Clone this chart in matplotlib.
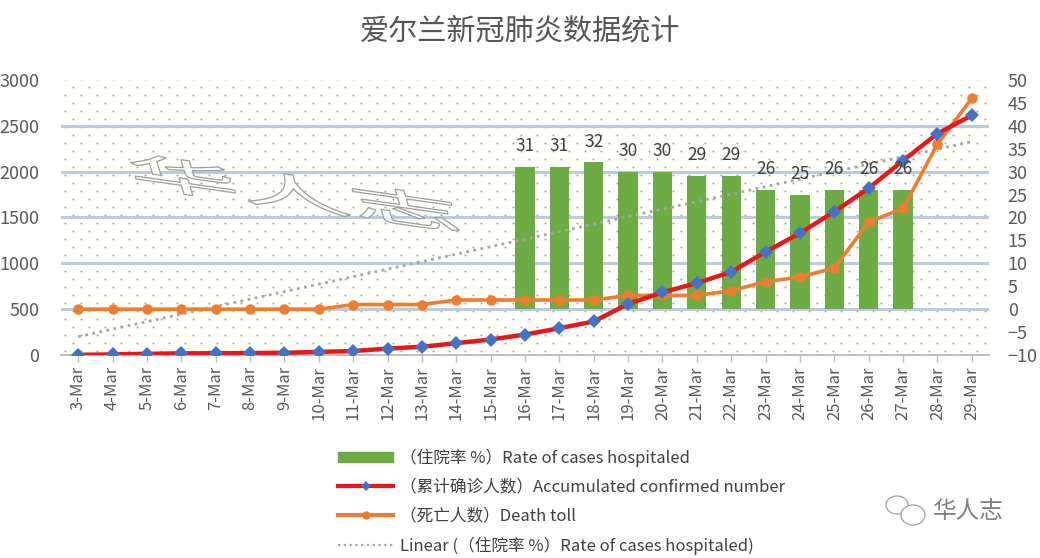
import numpy as np
import matplotlib
matplotlib.use("Agg")
import matplotlib.pyplot as plt
from matplotlib.lines import Line2D
from matplotlib.patches import PathPatch, Ellipse, Rectangle
from matplotlib.textpath import TextPath
from matplotlib.font_manager import FontProperties
from matplotlib.transforms import Affine2D

plt.rcParams['font.family'] = ['Noto Sans CJK SC', 'DejaVu Sans']

# ---------------- data ----------------
dates = ["3-Mar", "4-Mar", "5-Mar", "6-Mar", "7-Mar", "8-Mar", "9-Mar", "10-Mar",
         "11-Mar", "12-Mar", "13-Mar", "14-Mar", "15-Mar", "16-Mar", "17-Mar",
         "18-Mar", "19-Mar", "20-Mar", "21-Mar", "22-Mar", "23-Mar", "24-Mar",
         "25-Mar", "26-Mar", "27-Mar", "28-Mar", "29-Mar"]
confirmed = [2, 6, 13, 18, 19, 21, 24, 34, 43, 70, 90, 129, 169, 223, 292, 366,
             557, 683, 785, 906, 1125, 1329, 1564, 1819, 2121, 2415, 2615]
deaths = [0, 0, 0, 0, 0, 0, 0, 0, 1, 1, 1, 2, 2, 2, 2, 2, 3, 3, 3, 4, 6, 7, 9,
          19, 22, 36, 46]
hosp_rate = [None] * 13 + [31, 31, 32, 30, 30, 29, 29, 26, 25, 26, 26, 26] + [None, None]

label_bar = "（住院率 %）Rate of cases hospitaled"
label_conf = "（累计确诊人数）Accumulated confirmed number"
label_death = "（死亡人数）Death toll"
label_trend = "Linear (（住院率 %）Rate of cases hospitaled)"
title = "爱尔兰新冠肺炎数据统计"

# linear trendline (Excel style: blanks counted as zero, fit through last bar)
n_fit = max(i for i, v in enumerate(hosp_rate) if v is not None) + 1
fit_y = [0 if v is None else v for v in hosp_rate[:n_fit]]
coef = np.polyfit(np.arange(1, n_fit + 1), fit_y, 1)
trend = np.polyval(coef, np.arange(1, len(dates) + 1))

# ---------------- figure ----------------
W, H = 1040, 558
fig = plt.figure(figsize=(W / 100, H / 100), dpi=100)
L, R, T, B = 61, 989, 80, 355
rect = [L / W, 1 - B / H, (R - L) / W, (B - T) / H]
ax2 = fig.add_axes(rect)             # right axis (bars, deaths, trend, background)
ax = fig.add_axes(rect, sharex=ax2)  # left axis (confirmed), on top
ax.patch.set_visible(False)

x = np.arange(len(dates))
ax2.set_xlim(-0.5, len(dates) - 0.5)
ax.set_ylim(0, 3000)
ax2.set_ylim(-10, 50)

ax2.set_facecolor('#FFFFFC')
# dotted pattern background
nx = int((R - L) / 16) + 1
ny = int((B - T) / 8) + 1
px, py = [], []
for j in range(ny):
    off = 8 if j % 2 else 0
    for i in range(nx):
        px.append((4 + off + 16 * i) / (R - L))
        py.append((4 + 8 * j) / (B - T))
px = np.array(px); py = np.array(py)
m = px < 1
ax2.scatter(px[m], py[m], s=2.0, color='#A4A48C', transform=ax2.transAxes,
            zorder=0.5, linewidths=0)

# gridlines (left-axis multiples of 500)
for v in [500, 1000, 1500, 2000, 2500]:
    ax2.axhline((v / 3000) * 60 - 10, color='#BBCCDF', lw=2.2, zorder=0.6)

# bars
bar_x = [i for i, v in enumerate(hosp_rate) if v is not None]
bar_v = [v for v in hosp_rate if v is not None]
ax2.bar(bar_x, bar_v, width=0.56, color='#6DAC44', zorder=2, label=label_bar)

# trend line
ax2.plot(x, trend, color='#A6A6A6', lw=2, ls=(0, (1, 1.6)), zorder=3,
         label=label_trend)

# death toll
ax2.plot(x, deaths, color='#ED7D31', lw=2.6, marker='o', ms=7.5,
         markeredgewidth=0, zorder=4, label=label_death)

# confirmed
ax.plot(x, confirmed, color='#E3191B', lw=3.2, marker='D', ms=7.5,
        markerfacecolor='#4472C4', markeredgewidth=0, zorder=5,
        label=label_conf)

# bar value labels (on top of everything)
for xi, v in zip(bar_x, bar_v):
    ax.annotate(str(v), (xi, v), xycoords=ax2.transData, xytext=(0, 15),
                textcoords='offset points', ha='center', va='center',
                fontsize=12.5, color='#404040', zorder=6)

# axes styling
for a in (ax, ax2):
    for s in a.spines.values():
        s.set_visible(False)
ax.spines['bottom'].set_visible(True)
ax.spines['bottom'].set_color('#BFBFBF')
ax.spines['bottom'].set_linewidth(1.4)

ax.set_yticks([0, 500, 1000, 1500, 2000, 2500, 3000])
ax.tick_params(axis='y', left=False, labelsize=13, labelcolor='#595959', pad=12)
ax2.set_yticks(list(range(-10, 51, 5)))
ax2.yaxis.tick_right()
ax2.tick_params(axis='y', right=False, labelsize=13, labelcolor='#595959', pad=10)
ax2.tick_params(axis='x', bottom=False, labelbottom=False)
ax.set_xticks(x)
ax.set_xticklabels(dates, rotation=90)
ax.tick_params(axis='x', length=5, width=1, color='#BFBFBF', labelsize=12,
               labelcolor='#595959', pad=3)

fig.text(0.5, 1 - 32 / H, title, ha='center', va='center', fontsize=21,
         color='#555555', fontweight='medium')

# legend
handles = [Rectangle((0, 0), 1, 1, color='#6DAC44'),
           Line2D([], [], color='#E3191B', lw=3, marker='D', ms=5,
                  markerfacecolor='#4472C4', markeredgewidth=0),
           Line2D([], [], color='#ED7D31', lw=3, marker='o', ms=6,
                  markeredgewidth=0),
           Line2D([], [], color='#A6A6A6', lw=1.6, ls=(0, (1, 1.6)))]
leg = fig.legend(handles, [label_bar, label_conf, label_death, label_trend],
                 loc='upper left', bbox_to_anchor=(330 / W, 1 - 440 / H),
                 frameon=False, fontsize=12, handlelength=3.3, handleheight=0.6,
                 handletextpad=0.4, labelspacing=0.72, borderpad=0)
for t in leg.get_texts():
    t.set_color('#404040')

# watermark (embossed "华人志")
fp = FontProperties(family='Noto Sans CJK SC', weight='light')
tp = TextPath((0, 0), "华人志", size=44, prop=fp)
tw = Affine2D().scale(2.55, 0.85).skew_deg(-25, 0).rotate_deg(-8).translate(132, 374) \
    .scale(1 / W, 1 / H) + fig.transFigure
wm = PathPatch(tp, facecolor=(1, 1, 1, 0.75), edgecolor='#9E9E9E', lw=0.9,
               transform=tw, zorder=3)
fig.add_artist(wm)

# bottom-right logo
fig.add_artist(Ellipse((897 / W, 1 - 505 / H), 22 / W, 18 / H, fill=False,
                       edgecolor='#A0A0A0', lw=0.9, transform=fig.transFigure))
fig.add_artist(Ellipse((913 / W, 1 - 515 / H), 24 / W, 20 / H, facecolor='white',
                       edgecolor='#A0A0A0', lw=0.9, transform=fig.transFigure))
fig.text(968 / W, 1 - 512 / H, "华人志", ha='center', va='center', fontsize=17,
         color='#808080', fontweight='light')

fig.savefig('out.png', dpi=100)
